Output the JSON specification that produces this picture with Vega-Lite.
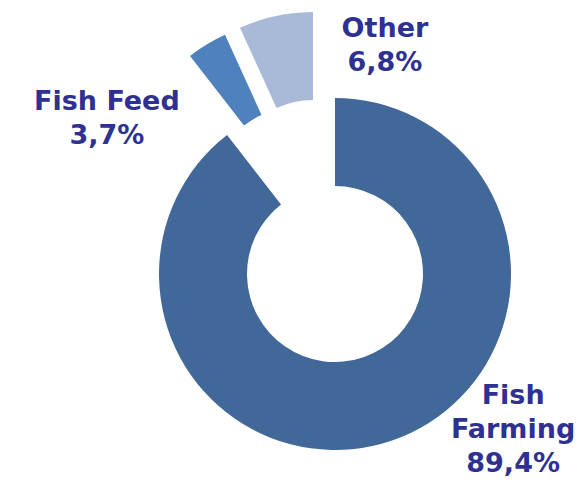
{
  "$schema": "https://vega.github.io/schema/vega-lite/v6.json",
  "width": 496,
  "height": 418,
  "autosize": {"type": "none"},
  "padding": {"left": 87, "top": 65, "right": 0, "bottom": 0},
  "background": "white",
  "view": {"stroke": null},
  "data": {
    "values": [
      {"category": "Fish Farming", "value": 89.4, "label": "Fish\nFarming\n89,4%"},
      {"category": "Fish Feed", "value": 3.7, "label": "Fish Feed\n3,7%"},
      {"category": "Other", "value": 6.8, "label": "Other\n6,8%"}
    ]
  },
  "transform": [
    {"stack": "value", "groupby": [], "sort": [{"field": "category", "order": "ascending"}], "as": ["v0", "v1"]}
  ],
  "encoding": {
    "theta": {"field": "v0", "type": "quantitative", "stack": null, "scale": {"domain": [0, 99.9]}}
  },
  "layer": [
    {
      "transform": [{"filter": "datum.category === 'Fish Farming'"}],
      "mark": {"type": "arc", "innerRadius": 88, "outerRadius": 176},
      "encoding": {
        "theta2": {"field": "v1"},
        "color": {"field": "category", "type": "nominal", "legend": null,
          "scale": {"domain": ["Fish Farming", "Fish Feed", "Other"], "range": ["#416898", "#4F81BD", "#A9B9D8"]}}
      }
    },
    {
      "transform": [{"filter": "datum.category === 'Fish Feed'"}],
      "mark": {"type": "arc", "innerRadius": 88, "outerRadius": 176, "xOffset": -37, "yOffset": -79},
      "encoding": {
        "theta2": {"field": "v1"},
        "color": {"field": "category", "type": "nominal", "legend": null}
      }
    },
    {
      "transform": [{"filter": "datum.category === 'Other'"}],
      "mark": {"type": "arc", "innerRadius": 88, "outerRadius": 176, "xOffset": -22, "yOffset": -86},
      "encoding": {
        "theta2": {"field": "v1"},
        "color": {"field": "category", "type": "nominal", "legend": null}
      }
    },
    {
      "transform": [{"filter": "datum.category === 'Fish Farming'"}],
      "mark": {"type": "text", "radius": 216, "thetaOffset": 2.172, "font": "DejaVu Sans", "fontWeight": "bold", "fontSize": 27, "lineHeight": 34, "lineBreak": "\n", "align": "center", "baseline": "middle", "color": "#2E3192"},
      "encoding": {"text": {"field": "label"}}
    },
    {
      "transform": [{"filter": "datum.category === 'Fish Feed'"}],
      "mark": {"type": "text", "radius": 286, "thetaOffset": -0.263, "font": "DejaVu Sans", "fontWeight": "bold", "fontSize": 27, "lineHeight": 34, "lineBreak": "\n", "align": "center", "baseline": "middle", "color": "#2E3192"},
      "encoding": {"text": {"field": "label"}}
    },
    {
      "transform": [{"filter": "datum.category === 'Other'"}],
      "mark": {"type": "text", "radius": 250, "thetaOffset": 0.201, "font": "DejaVu Sans", "fontWeight": "bold", "fontSize": 27, "lineHeight": 34, "lineBreak": "\n", "align": "center", "baseline": "middle", "color": "#2E3192"},
      "encoding": {"theta": {"field": "v1", "type": "quantitative", "stack": null}, "text": {"field": "label"}}
    }
  ]
}
